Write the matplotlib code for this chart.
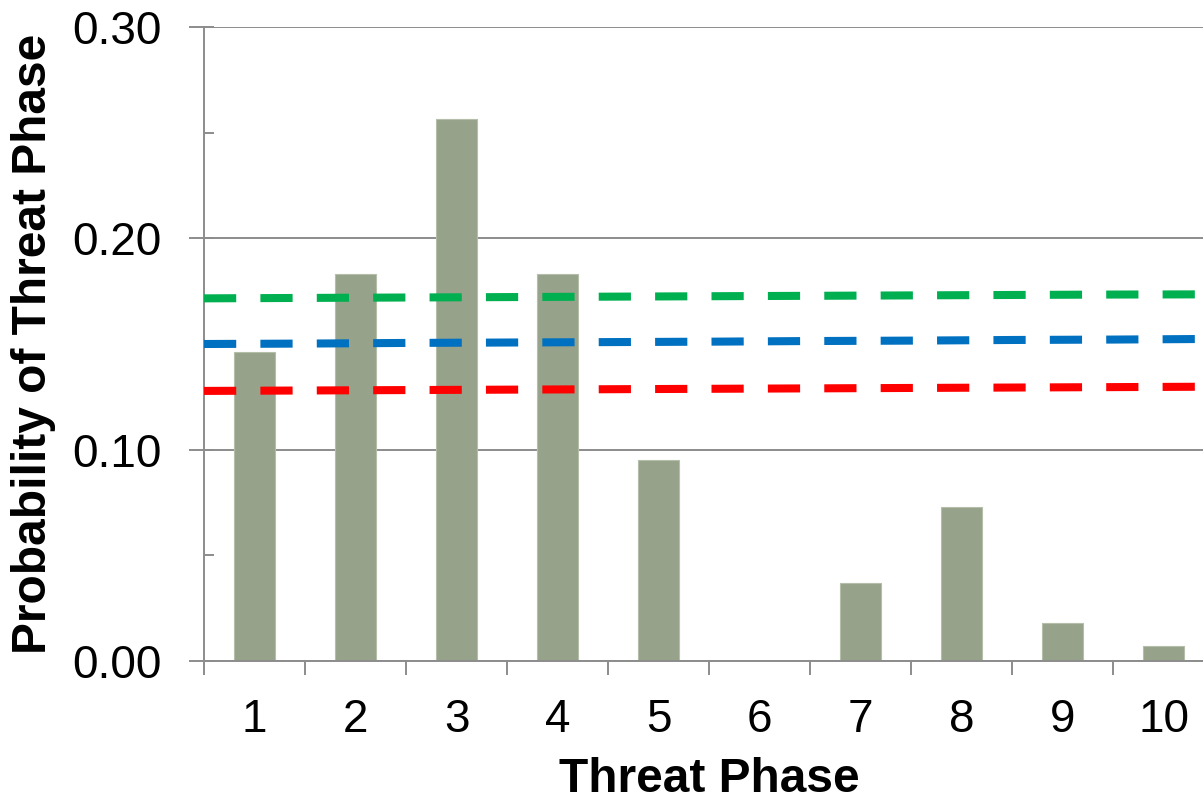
import matplotlib
matplotlib.use("Agg")
import matplotlib.pyplot as plt
import numpy as np

plt.rcParams['font.family'] = ['Liberation Sans', 'DejaVu Sans']

# Data
phases = [1, 2, 3, 4, 5, 6, 7, 8, 9, 10]
tick_labels = ['1', '2', '3', '4', '5', '6', '7', '8', '9', '10']
probability = [0.146, 0.183, 0.2565, 0.183, 0.095, 0.0, 0.037, 0.073, 0.018, 0.007]

# reference lines, read at category boundaries 0.5 ... 10.5
line_x = [0.5, 1.5, 2.5, 3.5, 4.5, 5.5, 6.5, 7.5, 8.5, 9.5, 10.5]
green_line = [0.1716, 0.1718, 0.1720, 0.1722, 0.1724, 0.1726, 0.1728, 0.1730, 0.1732, 0.1734, 0.1735]
blue_line = [0.1500, 0.1502, 0.1505, 0.1507, 0.1509, 0.1511, 0.1514, 0.1516, 0.1519, 0.1521, 0.1524]
red_line = [0.1278, 0.1280, 0.1282, 0.1284, 0.1286, 0.1288, 0.1290, 0.1292, 0.1294, 0.1296, 0.1298]

BAR = '#96A289'
GRID = '#8C8C8C'

fig = plt.figure(figsize=(12.03, 8.01), dpi=100)
ax = fig.add_axes([204/1203, 1 - 661/801, (1214 - 204)/1203, (661 - 27)/801])

ax.bar(phases, probability, width=0.41, color=BAR, edgecolor='#B4BEA8', linewidth=0.8, zorder=2)

lw = 5.8
for vals, col in [(green_line, '#00B050'), (blue_line, '#0070C0'), (red_line, '#FF0000')]:
    ax.plot(line_x, vals, color=col, lw=lw, dashes=(4.0, 3.0), dash_capstyle='butt',
            solid_capstyle='butt', zorder=3, clip_on=True)

ax.set_xlim(0.5, 10.5)
ax.set_ylim(0, 0.30)

# y axis ticks
ax.set_yticks([0.0, 0.10, 0.20, 0.30])
ax.set_yticklabels(['0.00', '0.10', '0.20', '0.30'], fontsize=33)
ax.set_yticks(np.arange(0, 0.301, 0.05), minor=True)
ax.yaxis.remove_overlapping_locs = False
ax.tick_params(axis='y', which='major', direction='out', length=10.8, width=1.4, color=GRID, pad=20)
ax.tick_params(axis='y', which='minor', direction='in', length=7.2, width=1.4, color=GRID)
ax.yaxis.grid(True, which='major', color=GRID, lw=1.4, zorder=0)
ax.set_axisbelow(True)

# x axis ticks: boundaries as major (no labels), centers as minor labels
ax.set_xticks(np.arange(0.5, 10.6, 1.0))
ax.set_xticklabels([])
ax.set_xticks(phases, minor=True)
ax.set_xticklabels(tick_labels, minor=True, fontsize=33)
ax.tick_params(axis='x', which='major', direction='out', length=10, width=1.4, color=GRID)
ax.tick_params(axis='x', which='minor', length=0, pad=27)

for s in ['top', 'right']:
    ax.spines[s].set_visible(False)
for s in ['left', 'bottom']:
    ax.spines[s].set_color(GRID)
    ax.spines[s].set_linewidth(1.4)

ax.set_xlabel('Threat Phase', fontsize=34.5, fontweight='bold')
ax.xaxis.set_label_coords(0.5, (661 - 779) / 634)
ax.xaxis.label.set_va('center')
ax.set_ylabel('Probability of Threat Phase', fontsize=34.5, fontweight='bold')
ax.yaxis.set_label_coords((34 - 204) / 1010, 0.5)
ax.yaxis.label.set_va('center')

fig.savefig('out.png', dpi=100)
